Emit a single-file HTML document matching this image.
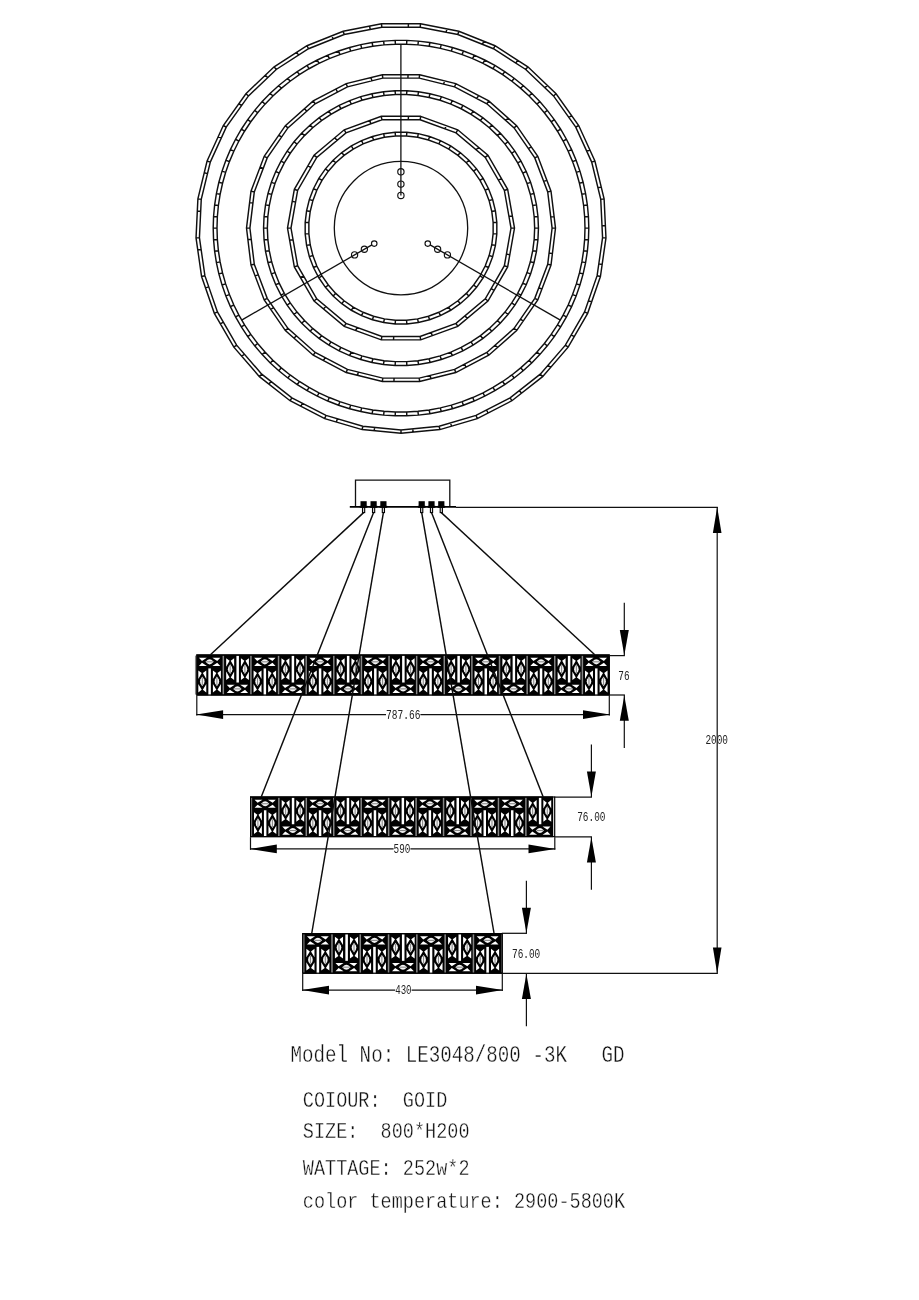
<!DOCTYPE html>
<html lang="en"><head><meta charset="utf-8"><title>LE3048/800 -3K GD</title>
<style>html,body{margin:0;padding:0;background:#fff}body{width:919px;height:1300px;overflow:hidden}svg{display:block}text{font-family:"Liberation Mono",monospace}</style>
</head><body>
<svg width="919" height="1300" viewBox="0 0 919 1300">
<rect width="919" height="1300" fill="#fff"/>
<g fill="none" stroke="#101010" stroke-width="1.45" stroke-linejoin="miter">
<path d="M420.51,23.83L458.81,31.21L495.03,45.71L527.85,66.8L556.08,93.72L578.71,125.5L594.91,160.99L604.11,198.9L605.97,237.86L600.42,276.48L587.66,313.34L568.15,347.13L542.6,376.61L511.94,400.73L477.27,418.6L439.83,429.59L401,433.3L362.17,429.59L324.73,418.6L290.06,400.73L259.4,376.61L233.85,347.13L214.34,313.34L201.58,276.48L196.03,237.86L197.89,198.9L207.09,160.99L223.29,125.5L245.92,93.72L274.15,66.8L306.97,45.71L343.19,31.21L381.49,23.83ZM420.18,27.21L457.85,34.47L493.47,48.73L525.74,69.47L553.51,95.95L575.76,127.2L591.7,162.1L600.75,199.38L602.57,237.7L597.11,275.68L584.56,311.93L565.38,345.16L540.26,374.15L510.1,397.86L476,415.44L439.19,426.25L401,429.9L362.81,426.25L326,415.44L291.9,397.86L261.74,374.15L236.62,345.16L217.44,311.93L204.89,275.68L199.43,237.7L201.25,199.38L210.3,162.1L226.24,127.2L248.49,95.95L276.26,69.47L308.53,48.73L344.15,34.47L381.82,27.21ZM381.49,23.83L381.82,27.21M408.41,23.83L408.29,27.21M420.51,23.83L420.18,27.21M446.94,28.92L446.18,32.22M458.81,31.21L457.85,34.47M483.8,41.22L482.43,44.31M495.03,45.71L493.47,48.73M517.67,60.26L515.74,63.04M527.85,66.8L525.74,69.47M547.33,85.38L544.9,87.74M556.08,93.72L553.51,95.95M571.69,115.65L568.87,117.51M578.71,125.5L575.76,127.2M589.89,149.99L586.76,151.28M594.91,160.99L591.7,162.1M601.26,187.14L597.94,187.82M604.11,198.9L600.75,199.38M605.39,225.78L602.01,225.82M605.97,237.86L602.57,237.7M602.14,264.51L598.8,263.9M600.42,276.48L597.11,275.68M591.61,301.91L588.45,300.69M587.66,313.34L584.56,311.93M574.2,336.65L571.33,334.86M568.15,347.13L565.38,345.16M550.52,367.47L548.05,365.16M542.6,376.61L540.26,374.15M521.45,393.25L519.45,390.51M511.94,400.73L510.1,397.86M488.01,413.06L486.57,409.99M477.27,418.6L476,415.44M451.44,426.18L450.6,422.9M439.83,429.59L439.19,426.25M413.04,432.15L412.84,428.77M401,433.3L401,429.9M374.2,430.74L374.65,427.38M362.17,429.59L362.81,426.25M336.34,422.01L337.41,418.8M324.73,418.6L326,415.44M300.81,406.27L302.47,403.31M290.06,400.73L291.9,397.86M268.9,384.09L271.09,381.5M259.4,376.61L261.74,374.15M241.77,356.27L244.41,354.14M233.85,347.13L236.62,345.16M220.39,323.82L223.38,322.23M214.34,313.34L217.44,311.93M205.54,287.91L208.78,286.92M201.58,276.48L204.89,275.68M197.75,249.83L201.12,249.47M196.03,237.86L199.43,237.7M197.31,210.98L200.69,211.26M197.89,198.9L201.25,199.38M204.23,172.74L207.49,173.66M207.09,160.99L210.3,162.1M218.27,136.5L221.3,138.02M223.29,125.5L226.24,127.2M238.91,103.57L241.59,105.64M245.92,93.72L248.49,95.95M265.4,75.15L267.65,77.68M274.15,66.8L276.26,69.47M296.8,52.25L298.52,55.16M306.97,45.71L308.53,48.73M331.96,35.71L333.11,38.89M343.19,31.21L344.15,34.47M369.62,26.12L370.14,29.46"/>
<path d="M419.62,74.73L455.79,83.64L488.77,100.95L516.64,125.65L537.8,156.3L551.01,191.13L555.5,228.1L551.01,265.07L537.8,299.9L516.64,330.55L488.77,355.25L455.79,372.56L419.62,381.47L382.38,381.47L346.21,372.56L313.23,355.25L285.36,330.55L264.2,299.9L250.99,265.07L246.5,228.1L250.99,191.13L264.2,156.3L285.36,125.65L313.23,100.95L346.21,83.64L382.38,74.73ZM419.21,78.1L454.58,86.82L486.83,103.75L514.1,127.9L534.79,157.88L547.71,191.94L552.1,228.1L547.71,264.26L534.79,298.32L514.1,328.3L486.83,352.45L454.58,369.38L419.21,378.1L382.79,378.1L347.42,369.38L315.17,352.45L287.9,328.3L267.21,298.32L254.29,264.26L249.9,228.1L254.29,191.94L267.21,157.88L287.9,127.9L315.17,103.75L347.42,86.82L382.79,78.1ZM382.38,74.73L382.79,78.1M408.08,74.73L407.92,78.1M419.62,74.73L419.21,78.1M444.58,80.88L443.62,84.12M455.79,83.64L454.58,86.82M478.54,95.58L476.84,98.5M488.77,100.95L486.83,103.75M508,117.99L505.65,120.41M516.64,125.65L514.1,127.9M531.24,146.8L528.38,148.59M537.8,156.3L534.79,157.88M546.92,180.33L543.71,181.38M551.01,191.13L547.71,191.94M554.11,216.64L550.74,216.89M555.5,228.1L552.1,228.1M552.4,253.61L549.07,253.05M551.01,265.07L547.71,264.26M541.9,289.1L538.8,287.76M537.8,299.9L534.79,298.32M523.2,321.05L520.51,319M516.64,330.55L514.1,328.3M497.41,347.59L495.29,344.96M488.77,355.25L486.83,352.45M466.01,367.19L464.58,364.13M455.79,372.56L454.58,369.38M430.83,378.71L430.18,375.4M419.62,381.47L419.21,378.1M393.92,381.47L394.08,378.1M382.38,381.47L382.79,378.1M357.42,375.32L358.38,372.08M346.21,372.56L347.42,369.38M323.46,360.62L325.16,357.7M313.23,355.25L315.17,352.45M294,338.21L296.35,335.79M285.36,330.55L287.9,328.3M270.76,309.4L273.62,307.61M264.2,299.9L267.21,298.32M255.08,275.87L258.29,274.82M250.99,265.07L254.29,264.26M247.89,239.56L251.26,239.31M246.5,228.1L249.9,228.1M249.6,202.59L252.93,203.15M250.99,191.13L254.29,191.94M260.1,167.1L263.2,168.44M264.2,156.3L267.21,157.88M278.8,135.15L281.49,137.2M285.36,125.65L287.9,127.9M304.59,108.61L306.71,111.24M313.23,100.95L315.17,103.75M335.99,89.01L337.42,92.07M346.21,83.64L347.42,86.82M371.17,77.49L371.82,80.8"/>
<path d="M420.71,116.32L457.75,129.81L487.95,155.14L507.66,189.28L514.5,228.1L507.66,266.92L487.95,301.06L457.75,326.39L420.71,339.88L381.29,339.88L344.25,326.39L314.05,301.06L294.34,266.92L287.5,228.1L294.34,189.28L314.05,155.14L344.25,129.81L381.29,116.32ZM420.1,119.77L456,132.84L485.26,157.39L504.37,190.48L511,228.1L504.37,265.72L485.26,298.81L456,323.36L420.1,336.43L381.9,336.43L346,323.36L316.74,298.81L297.63,265.72L291,228.1L297.63,190.48L316.74,157.39L346,132.84L381.9,119.77ZM381.29,116.32L381.9,119.77M408.49,116.32L408.26,119.77M420.71,116.32L420.1,119.77M446.27,125.63L444.87,128.79M457.75,129.81L456,132.84M478.59,147.29L476.19,149.78M487.95,155.14L485.26,157.39M501.55,178.7L498.44,180.22M507.66,189.28L504.37,190.48M512.38,216.07L508.94,216.44M514.5,228.1L511,228.1M509.78,254.89L506.42,254.06M507.66,266.92L504.37,265.72M494.06,290.47L491.19,288.55M487.95,301.06L485.26,298.81M467.11,318.54L465.07,315.75M457.75,326.39L456,323.36M432.19,335.7L431.23,332.38M420.71,339.88L420.1,336.43M393.51,339.88L393.74,336.43M381.29,339.88L381.9,336.43M355.73,330.57L357.13,327.41M344.25,326.39L346,323.36M323.41,308.91L325.81,306.42M314.05,301.06L316.74,298.81M300.45,277.5L303.56,275.98M294.34,266.92L297.63,265.72M289.62,240.13L293.06,239.76M287.5,228.1L291,228.1M292.22,201.31L295.58,202.14M294.34,189.28L297.63,190.48M307.94,165.73L310.81,167.65M314.05,155.14L316.74,157.39M334.89,137.66L336.93,140.45M344.25,129.81L346,132.84M369.81,120.5L370.77,123.82"/>
<path d="M406.78,40.39L418.33,41.1L429.81,42.52L441.18,44.65L452.39,47.47L463.42,50.98L474.2,55.15L484.71,59.99L494.9,65.46L504.73,71.55L514.17,78.23L523.19,85.48L531.73,93.28L539.79,101.58L547.31,110.36L554.28,119.59L560.67,129.24L566.45,139.25L571.61,149.61L576.12,160.26L579.96,171.17L583.13,182.29L585.6,193.59L587.38,205.02L588.44,216.54L588.8,228.1L588.44,239.66L587.38,251.18L585.6,262.61L583.13,273.91L579.96,285.03L576.12,295.94L571.61,306.59L566.45,316.95L560.67,326.96L554.28,336.61L547.31,345.84L539.79,354.62L531.73,362.92L523.19,370.72L514.17,377.97L504.73,384.65L494.9,390.74L484.71,396.21L474.2,401.05L463.42,405.22L452.39,408.73L441.18,411.55L429.81,413.68L418.33,415.1L406.78,415.81L395.22,415.81L383.67,415.1L372.19,413.68L360.82,411.55L349.61,408.73L338.58,405.22L327.8,401.05L317.29,396.21L307.1,390.74L297.27,384.65L287.83,377.97L278.81,370.72L270.27,362.92L262.21,354.62L254.69,345.84L247.72,336.61L241.33,326.96L235.55,316.95L230.39,306.59L225.88,295.94L222.04,285.03L218.87,273.91L216.4,262.61L214.62,251.18L213.56,239.66L213.2,228.1L213.56,216.54L214.62,205.02L216.4,193.59L218.87,182.29L222.04,171.17L225.88,160.26L230.39,149.61L235.55,139.25L241.33,129.24L247.72,119.59L254.69,110.36L262.21,101.58L270.27,93.28L278.81,85.48L287.83,78.23L297.27,71.55L307.1,65.46L317.29,59.99L327.8,55.15L338.58,50.98L349.61,47.47L360.82,44.65L372.19,42.52L383.67,41.1L395.22,40.39ZM406.67,44.19L417.98,44.88L429.22,46.28L440.36,48.36L451.35,51.12L462.15,54.56L472.72,58.65L483.02,63.39L493,68.75L502.64,74.72L511.88,81.26L520.71,88.37L529.09,96L536.98,104.14L544.35,112.75L551.18,121.79L557.44,131.24L563.11,141.05L568.16,151.2L572.57,161.63L576.34,172.32L579.44,183.22L581.87,194.29L583.61,205.49L584.65,216.77L585,228.1L584.65,239.43L583.61,250.71L581.87,261.91L579.44,272.98L576.34,283.88L572.57,294.57L568.16,305L563.11,315.15L557.44,324.96L551.18,334.41L544.35,343.45L536.98,352.06L529.09,360.2L520.71,367.83L511.88,374.94L502.64,381.48L493,387.45L483.02,392.81L472.72,397.55L462.15,401.64L451.35,405.08L440.36,407.84L429.22,409.92L417.98,411.32L406.67,412.01L395.33,412.01L384.02,411.32L372.78,409.92L361.64,407.84L350.65,405.08L339.85,401.64L329.28,397.55L318.98,392.81L309,387.45L299.36,381.48L290.12,374.94L281.29,367.83L272.91,360.2L265.02,352.06L257.65,343.45L250.82,334.41L244.56,324.96L238.89,315.15L233.84,305L229.43,294.57L225.66,283.88L222.56,272.98L220.13,261.91L218.39,250.71L217.35,239.43L217,228.1L217.35,216.77L218.39,205.49L220.13,194.29L222.56,183.22L225.66,172.32L229.43,161.63L233.84,151.2L238.89,141.05L244.56,131.24L250.82,121.79L257.65,112.75L265.02,104.14L272.91,96L281.29,88.37L290.12,81.26L299.36,74.72L309,68.75L318.98,63.39L329.28,58.65L339.85,54.56L350.65,51.12L361.64,48.36L372.78,46.28L384.02,44.88L395.33,44.19ZM406.78,40.39L406.67,44.19M418.33,41.1L417.98,44.88M429.81,42.52L429.22,46.28M441.18,44.65L440.36,48.36M452.39,47.47L451.35,51.12M463.42,50.98L462.15,54.56M474.2,55.15L472.72,58.65M484.71,59.99L483.02,63.39M494.9,65.46L493,68.75M504.73,71.55L502.64,74.72M514.17,78.23L511.88,81.26M523.19,85.48L520.71,88.37M531.73,93.28L529.09,96M539.79,101.58L536.98,104.14M547.31,110.36L544.35,112.75M554.28,119.59L551.18,121.79M560.67,129.24L557.44,131.24M566.45,139.25L563.11,141.05M571.61,149.61L568.16,151.2M576.12,160.26L572.57,161.63M579.96,171.17L576.34,172.32M583.13,182.29L579.44,183.22M585.6,193.59L581.87,194.29M587.38,205.02L583.61,205.49M588.44,216.54L584.65,216.77M588.8,228.1L585,228.1M588.44,239.66L584.65,239.43M587.38,251.18L583.61,250.71M585.6,262.61L581.87,261.91M583.13,273.91L579.44,272.98M579.96,285.03L576.34,283.88M576.12,295.94L572.57,294.57M571.61,306.59L568.16,305M566.45,316.95L563.11,315.15M560.67,326.96L557.44,324.96M554.28,336.61L551.18,334.41M547.31,345.84L544.35,343.45M539.79,354.62L536.98,352.06M531.73,362.92L529.09,360.2M523.19,370.72L520.71,367.83M514.17,377.97L511.88,374.94M504.73,384.65L502.64,381.48M494.9,390.74L493,387.45M484.71,396.21L483.02,392.81M474.2,401.05L472.72,397.55M463.42,405.22L462.15,401.64M452.39,408.73L451.35,405.08M441.18,411.55L440.36,407.84M429.81,413.68L429.22,409.92M418.33,415.1L417.98,411.32M406.78,415.81L406.67,412.01M395.22,415.81L395.33,412.01M383.67,415.1L384.02,411.32M372.19,413.68L372.78,409.92M360.82,411.55L361.64,407.84M349.61,408.73L350.65,405.08M338.58,405.22L339.85,401.64M327.8,401.05L329.28,397.55M317.29,396.21L318.98,392.81M307.1,390.74L309,387.45M297.27,384.65L299.36,381.48M287.83,377.97L290.12,374.94M278.81,370.72L281.29,367.83M270.27,362.92L272.91,360.2M262.21,354.62L265.02,352.06M254.69,345.84L257.65,343.45M247.72,336.61L250.82,334.41M241.33,326.96L244.56,324.96M235.55,316.95L238.89,315.15M230.39,306.59L233.84,305M225.88,295.94L229.43,294.57M222.04,285.03L225.66,283.88M218.87,273.91L222.56,272.98M216.4,262.61L220.13,261.91M214.62,251.18L218.39,250.71M213.56,239.66L217.35,239.43M213.2,228.1L217,228.1M213.56,216.54L217.35,216.77M214.62,205.02L218.39,205.49M216.4,193.59L220.13,194.29M218.87,182.29L222.56,183.22M222.04,171.17L225.66,172.32M225.88,160.26L229.43,161.63M230.39,149.61L233.84,151.2M235.55,139.25L238.89,141.05M241.33,129.24L244.56,131.24M247.72,119.59L250.82,121.79M254.69,110.36L257.65,112.75M262.21,101.58L265.02,104.14M270.27,93.28L272.91,96M278.81,85.48L281.29,88.37M287.83,78.23L290.12,81.26M297.27,71.55L299.36,74.72M307.1,65.46L309,68.75M317.29,59.99L318.98,63.39M327.8,55.15L329.28,58.65M338.58,50.98L339.85,54.56M349.61,47.47L350.65,51.12M360.82,44.65L361.64,48.36M372.19,42.52L372.78,46.28M383.67,41.1L384.02,44.88M395.22,40.39L395.33,44.19"/>
<path d="M406.83,90.77L418.46,91.76L429.96,93.74L441.25,96.67L452.25,100.56L462.88,105.37L473.07,111.06L482.73,117.59L491.81,124.92L500.23,132.99L507.94,141.75L514.88,151.13L521,161.07L526.25,171.48L530.6,182.31L534.01,193.47L536.47,204.87L537.95,216.44L538.45,228.1L537.95,239.76L536.47,251.33L534.01,262.73L530.6,273.89L526.25,284.72L521,295.13L514.88,305.07L507.94,314.45L500.23,323.21L491.81,331.28L482.73,338.61L473.07,345.14L462.88,350.83L452.25,355.64L441.25,359.53L429.96,362.46L418.46,364.44L406.83,365.43L395.17,365.43L383.54,364.44L372.04,362.46L360.75,359.53L349.75,355.64L339.12,350.83L328.93,345.14L319.27,338.61L310.19,331.28L301.77,323.21L294.06,314.45L287.12,305.07L281,295.13L275.75,284.72L271.4,273.89L267.99,262.73L265.53,251.33L264.05,239.76L263.55,228.1L264.05,216.44L265.53,204.87L267.99,193.47L271.4,182.31L275.75,171.48L281,161.07L287.12,151.13L294.06,141.75L301.77,132.99L310.19,124.92L319.27,117.59L328.93,111.06L339.12,105.37L349.75,100.56L360.75,96.67L372.04,93.74L383.54,91.76L395.17,90.77ZM406.67,94.57L417.98,95.53L429.16,97.45L440.14,100.31L450.83,104.09L461.17,108.76L471.07,114.29L480.47,120.65L489.3,127.77L497.49,135.62L504.98,144.14L511.73,153.26L517.68,162.92L522.79,173.05L527.02,183.58L530.34,194.42L532.73,205.51L534.17,216.77L534.65,228.1L534.17,239.43L532.73,250.69L530.34,261.78L527.02,272.62L522.79,283.15L517.68,293.28L511.73,302.94L504.98,312.06L497.49,320.58L489.3,328.43L480.47,335.55L471.07,341.91L461.17,347.44L450.83,352.11L440.14,355.89L429.16,358.75L417.98,360.67L406.67,361.63L395.33,361.63L384.02,360.67L372.84,358.75L361.86,355.89L351.17,352.11L340.83,347.44L330.93,341.91L321.53,335.55L312.7,328.43L304.51,320.58L297.02,312.06L290.27,302.94L284.32,293.28L279.21,283.15L274.98,272.62L271.66,261.78L269.27,250.69L267.83,239.43L267.35,228.1L267.83,216.77L269.27,205.51L271.66,194.42L274.98,183.58L279.21,173.05L284.32,162.92L290.27,153.26L297.02,144.14L304.51,135.62L312.7,127.77L321.53,120.65L330.93,114.29L340.83,108.76L351.17,104.09L361.86,100.31L372.84,97.45L384.02,95.53L395.33,94.57ZM406.83,90.77L406.67,94.57M418.46,91.76L417.98,95.53M429.96,93.74L429.16,97.45M441.25,96.67L440.14,100.31M452.25,100.56L450.83,104.09M462.88,105.37L461.17,108.76M473.07,111.06L471.07,114.29M482.73,117.59L480.47,120.65M491.81,124.92L489.3,127.77M500.23,132.99L497.49,135.62M507.94,141.75L504.98,144.14M514.88,151.13L511.73,153.26M521,161.07L517.68,162.92M526.25,171.48L522.79,173.05M530.6,182.31L527.02,183.58M534.01,193.47L530.34,194.42M536.47,204.87L532.73,205.51M537.95,216.44L534.17,216.77M538.45,228.1L534.65,228.1M537.95,239.76L534.17,239.43M536.47,251.33L532.73,250.69M534.01,262.73L530.34,261.78M530.6,273.89L527.02,272.62M526.25,284.72L522.79,283.15M521,295.13L517.68,293.28M514.88,305.07L511.73,302.94M507.94,314.45L504.98,312.06M500.23,323.21L497.49,320.58M491.81,331.28L489.3,328.43M482.73,338.61L480.47,335.55M473.07,345.14L471.07,341.91M462.88,350.83L461.17,347.44M452.25,355.64L450.83,352.11M441.25,359.53L440.14,355.89M429.96,362.46L429.16,358.75M418.46,364.44L417.98,360.67M406.83,365.43L406.67,361.63M395.17,365.43L395.33,361.63M383.54,364.44L384.02,360.67M372.04,362.46L372.84,358.75M360.75,359.53L361.86,355.89M349.75,355.64L351.17,352.11M339.12,350.83L340.83,347.44M328.93,345.14L330.93,341.91M319.27,338.61L321.53,335.55M310.19,331.28L312.7,328.43M301.77,323.21L304.51,320.58M294.06,314.45L297.02,312.06M287.12,305.07L290.27,302.94M281,295.13L284.32,293.28M275.75,284.72L279.21,283.15M271.4,273.89L274.98,272.62M267.99,262.73L271.66,261.78M265.53,251.33L269.27,250.69M264.05,239.76L267.83,239.43M263.55,228.1L267.35,228.1M264.05,216.44L267.83,216.77M265.53,204.87L269.27,205.51M267.99,193.47L271.66,194.42M271.4,182.31L274.98,183.58M275.75,171.48L279.21,173.05M281,161.07L284.32,162.92M287.12,151.13L290.27,153.26M294.06,141.75L297.02,144.14M301.77,132.99L304.51,135.62M310.19,124.92L312.7,127.77M319.27,117.59L321.53,120.65M328.93,111.06L330.93,114.29M339.12,105.37L340.83,108.76M349.75,100.56L351.17,104.09M360.75,96.67L361.86,100.31M372.04,93.74L372.84,97.45M383.54,91.76L384.02,95.53M395.17,90.77L395.33,94.57"/>
<path d="M406.8,132.28L418.3,133.67L429.56,136.45L440.4,140.56L450.66,145.94L460.21,152.53L468.88,160.22L476.57,168.89L483.16,178.44L488.54,188.7L492.65,199.54L495.43,210.8L496.82,222.3L496.82,233.9L495.43,245.4L492.65,256.66L488.54,267.5L483.16,277.76L476.57,287.31L468.88,295.98L460.21,303.67L450.66,310.26L440.4,315.64L429.56,319.75L418.3,322.53L406.8,323.92L395.2,323.92L383.7,322.53L372.44,319.75L361.6,315.64L351.34,310.26L341.79,303.67L333.12,295.98L325.43,287.31L318.84,277.76L313.46,267.5L309.35,256.66L306.57,245.4L305.18,233.9L305.18,222.3L306.57,210.8L309.35,199.54L313.46,188.7L318.84,178.44L325.43,168.89L333.12,160.22L341.79,152.53L351.34,145.94L361.6,140.56L372.44,136.45L383.7,133.67L395.2,132.28ZM406.57,135.97L417.64,137.31L428.46,139.98L438.88,143.93L448.75,149.11L457.92,155.44L466.27,162.83L473.66,171.18L479.99,180.35L485.17,190.22L489.12,200.64L491.79,211.46L493.13,222.53L493.13,233.67L491.79,244.74L489.12,255.56L485.17,265.98L479.99,275.85L473.66,285.02L466.27,293.37L457.92,300.76L448.75,307.09L438.88,312.27L428.46,316.22L417.64,318.89L406.57,320.23L395.43,320.23L384.36,318.89L373.54,316.22L363.12,312.27L353.25,307.09L344.08,300.76L335.73,293.37L328.34,285.02L322.01,275.85L316.83,265.98L312.88,255.56L310.21,244.74L308.87,233.67L308.87,222.53L310.21,211.46L312.88,200.64L316.83,190.22L322.01,180.35L328.34,171.18L335.73,162.83L344.08,155.44L353.25,149.11L363.12,143.93L373.54,139.98L384.36,137.31L395.43,135.97ZM406.8,132.28L406.57,135.97M418.3,133.67L417.64,137.31M429.56,136.45L428.46,139.98M440.4,140.56L438.88,143.93M450.66,145.94L448.75,149.11M460.21,152.53L457.92,155.44M468.88,160.22L466.27,162.83M476.57,168.89L473.66,171.18M483.16,178.44L479.99,180.35M488.54,188.7L485.17,190.22M492.65,199.54L489.12,200.64M495.43,210.8L491.79,211.46M496.82,222.3L493.13,222.53M496.82,233.9L493.13,233.67M495.43,245.4L491.79,244.74M492.65,256.66L489.12,255.56M488.54,267.5L485.17,265.98M483.16,277.76L479.99,275.85M476.57,287.31L473.66,285.02M468.88,295.98L466.27,293.37M460.21,303.67L457.92,300.76M450.66,310.26L448.75,307.09M440.4,315.64L438.88,312.27M429.56,319.75L428.46,316.22M418.3,322.53L417.64,318.89M406.8,323.92L406.57,320.23M395.2,323.92L395.43,320.23M383.7,322.53L384.36,318.89M372.44,319.75L373.54,316.22M361.6,315.64L363.12,312.27M351.34,310.26L353.25,307.09M341.79,303.67L344.08,300.76M333.12,295.98L335.73,293.37M325.43,287.31L328.34,285.02M318.84,277.76L322.01,275.85M313.46,267.5L316.83,265.98M309.35,256.66L312.88,255.56M306.57,245.4L310.21,244.74M305.18,233.9L308.87,233.67M305.18,222.3L308.87,222.53M306.57,210.8L310.21,211.46M309.35,199.54L312.88,200.64M313.46,188.7L316.83,190.22M318.84,178.44L322.01,180.35M325.43,168.89L328.34,171.18M333.12,160.22L335.73,162.83M341.79,152.53L344.08,155.44M351.34,145.94L353.25,149.11M361.6,140.56L363.12,143.93M372.44,136.45L373.54,139.98M383.7,133.67L384.36,137.31M395.2,132.28L395.43,135.97"/>
</g>
<g fill="none" stroke="#111" stroke-width="1.3">
<circle cx="401" cy="228.1" r="66.7"/>
<path d="M400.9,44.1V195.4"/>
<circle cx="400.9" cy="171.8" r="3.15" stroke-width="1.15"/>
<circle cx="400.9" cy="184.1" r="3.15" stroke-width="1.15"/>
<circle cx="400.9" cy="195.4" r="3.15" stroke-width="1.15"/>
<path d="M560.35,320.1L430.1,244.9"/>
<circle cx="447.42" cy="254.9" r="3.1" stroke-width="1.15"/>
<circle cx="437.63" cy="249.25" r="3.1" stroke-width="1.15"/>
<circle cx="427.76" cy="243.55" r="2.75" stroke-width="1.15"/>
<path d="M241.65,320.1L371.9,244.9"/>
<circle cx="354.58" cy="254.9" r="3.1" stroke-width="1.15"/>
<circle cx="364.37" cy="249.25" r="3.1" stroke-width="1.15"/>
<circle cx="374.24" cy="243.55" r="2.75" stroke-width="1.15"/>
</g>
<g style="opacity:0.999">
<defs>
<g id="ch"><path d="M-10.68,-4.03L-2.73,-4.03L-7.63,-0.91ZM-10.68,4.03L-2.73,4.03L-7.63,0.91ZM10.68,-4.03L2.73,-4.03L7.63,-0.91ZM10.68,4.03L2.73,4.03L7.63,0.91Z" fill="#fff"/><path d="M-4.14,0L-1.86,-1.99L0,-2.49L1.86,-1.99L4.14,0L1.86,1.99L0,2.49L-1.86,1.99Z" fill="#f4f4f4"/><path d="M-3.31,0H3.31" stroke="#666" stroke-width="0.8"/></g>
<g id="cv"><path d="M-10.67,-3.98L-2.42,-3.98L-8.14,-0.57ZM-10.67,3.98L-2.42,3.98L-8.14,0.57ZM10.67,-3.98L2.42,-3.98L8.14,-0.57ZM10.67,3.98L2.42,3.98L8.14,0.57Z" fill="#fff"/><path d="M-4.73,0L-2.13,-1.84L0,-2.3L2.13,-1.84L4.73,0L2.13,1.84L0,2.3L-2.13,1.84Z" fill="#f4f4f4"/><path d="M-3.78,0H3.78" stroke="#666" stroke-width="0.8"/></g>
<g id="mA"><use href="#ch" transform="translate(13.7,7.2)"/><use href="#cv" transform="translate(6.4,26.2) rotate(90)"/><use href="#cv" transform="translate(21.0,26.2) rotate(90)"/><rect x="12.45" y="13.6" width="2.5" height="26.2" fill="#fff"/><rect x="-0.95" y="1.2" width="1.5" height="37.8" fill="#858585"/></g>
<g id="mB"><use href="#ch" transform="translate(13.9,33.5)"/><use href="#cv" transform="translate(6.65,14.3) rotate(90)"/><use href="#cv" transform="translate(21.4,14.3) rotate(90)"/><rect x="12.9" y="1.3" width="2.5" height="26.0" fill="#fff"/><rect x="-0.95" y="1.2" width="1.5" height="37.8" fill="#858585"/></g>
</defs>
<path d="M355.5,506.7V480.1H449.8V506.7" fill="none" stroke="#111" stroke-width="1.3"/>
<path d="M349.8,506.9L456,506.9" stroke="#000" stroke-width="1.7" fill="none"/>
<path d="M456,507.25L717.8,507.25" stroke="#111" stroke-width="1.25" fill="none"/>
<rect x="360.5" y="501.2" width="6.2" height="6.4" fill="#000"/>
<rect x="359.7" y="505.8" width="7.8" height="1.9" fill="#000"/>
<rect x="362.5" y="507.5" width="2.2" height="5.1" fill="#ddd" stroke="#000" stroke-width="1.1"/>
<rect x="370.5" y="501.2" width="6.2" height="6.4" fill="#000"/>
<rect x="369.7" y="505.8" width="7.8" height="1.9" fill="#000"/>
<rect x="372.5" y="507.5" width="2.2" height="5.1" fill="#ddd" stroke="#000" stroke-width="1.1"/>
<rect x="380.3" y="501.2" width="6.2" height="6.4" fill="#000"/>
<rect x="379.5" y="505.8" width="7.8" height="1.9" fill="#000"/>
<rect x="382.3" y="507.5" width="2.2" height="5.1" fill="#ddd" stroke="#000" stroke-width="1.1"/>
<rect x="418.6" y="501.2" width="6.2" height="6.4" fill="#000"/>
<rect x="417.8" y="505.8" width="7.8" height="1.9" fill="#000"/>
<rect x="420.6" y="507.5" width="2.2" height="5.1" fill="#ddd" stroke="#000" stroke-width="1.1"/>
<rect x="428.4" y="501.2" width="6.2" height="6.4" fill="#000"/>
<rect x="427.6" y="505.8" width="7.8" height="1.9" fill="#000"/>
<rect x="430.4" y="507.5" width="2.2" height="5.1" fill="#ddd" stroke="#000" stroke-width="1.1"/>
<rect x="438.2" y="501.2" width="6.2" height="6.4" fill="#000"/>
<rect x="437.4" y="505.8" width="7.8" height="1.9" fill="#000"/>
<rect x="440.2" y="507.5" width="2.2" height="5.1" fill="#ddd" stroke="#000" stroke-width="1.1"/>
<rect x="196.3" y="654.4" width="413.5" height="41.2" fill="#000"/>
<use href="#mA" transform="translate(195.9,654.4) scale(1,1.03)"/>
<use href="#mB" transform="translate(223.52,654.4) scale(1,1.03)"/>
<use href="#mA" transform="translate(251.14,654.4) scale(1,1.03)"/>
<use href="#mB" transform="translate(278.76,654.4) scale(1,1.03)"/>
<use href="#mA" transform="translate(306.38,654.4) scale(1,1.03)"/>
<use href="#mB" transform="translate(334,654.4) scale(1,1.03)"/>
<use href="#mA" transform="translate(361.62,654.4) scale(1,1.03)"/>
<use href="#mB" transform="translate(389.24,654.4) scale(1,1.03)"/>
<use href="#mA" transform="translate(416.86,654.4) scale(1,1.03)"/>
<use href="#mB" transform="translate(444.48,654.4) scale(1,1.03)"/>
<use href="#mA" transform="translate(472.1,654.4) scale(1,1.03)"/>
<use href="#mB" transform="translate(499.72,654.4) scale(1,1.03)"/>
<use href="#mA" transform="translate(527.34,654.4) scale(1,1.03)"/>
<use href="#mB" transform="translate(554.96,654.4) scale(1,1.03)"/>
<use href="#mA" transform="translate(582.58,654.4) scale(1,1.03)"/>
<rect x="196.9" y="655" width="412.3" height="40" fill="none" stroke="#000" stroke-width="1.2"/>
<rect x="250" y="796.4" width="303.2" height="40.8" fill="#000"/>
<use href="#mA" transform="translate(251.6,796.4) scale(0.99,1.02)"/>
<use href="#mB" transform="translate(279.05,796.4) scale(0.99,1.02)"/>
<use href="#mA" transform="translate(306.5,796.4) scale(0.99,1.02)"/>
<use href="#mB" transform="translate(333.95,796.4) scale(0.99,1.02)"/>
<use href="#mA" transform="translate(361.4,796.4) scale(0.99,1.02)"/>
<use href="#mB" transform="translate(388.85,796.4) scale(0.99,1.02)"/>
<use href="#mA" transform="translate(416.3,796.4) scale(0.99,1.02)"/>
<use href="#mB" transform="translate(443.75,796.4) scale(0.99,1.02)"/>
<use href="#mA" transform="translate(471.2,796.4) scale(0.99,1.02)"/>
<use href="#mA" transform="translate(498.65,796.4) scale(0.99,1.02)"/>
<use href="#mB" transform="translate(526.1,796.4) scale(0.99,1.02)"/>
<rect x="250.6" y="797" width="304.1" height="39.6" fill="none" stroke="#000" stroke-width="1.2"/>
<rect x="302.2" y="933" width="200.6" height="40.8" fill="#000"/>
<use href="#mA" transform="translate(303.9,933) scale(1.02,1.02)"/>
<use href="#mB" transform="translate(332.19,933) scale(1.02,1.02)"/>
<use href="#mA" transform="translate(360.48,933) scale(1.02,1.02)"/>
<use href="#mB" transform="translate(388.77,933) scale(1.02,1.02)"/>
<use href="#mA" transform="translate(417.06,933) scale(1.02,1.02)"/>
<use href="#mB" transform="translate(445.35,933) scale(1.02,1.02)"/>
<use href="#mA" transform="translate(473.64,933) scale(1.02,1.02)"/>
<rect x="501.33" y="934.2" width="1.2" height="38.4" fill="#858585"/>
<rect x="302.8" y="933.6" width="199.4" height="39.6" fill="none" stroke="#000" stroke-width="1.2"/>
<path d="M363.6,512.6L210.4,654.7" stroke="#0c0c0c" stroke-width="1.45" fill="none"/>
<path d="M441.3,512.6L594.8,654.7" stroke="#0c0c0c" stroke-width="1.45" fill="none"/>
<path d="M373.6,512.6L261.2,796.9" stroke="#0c0c0c" stroke-width="1.45" fill="none"/>
<path d="M431.5,512.6L543.2,796.9" stroke="#0c0c0c" stroke-width="1.45" fill="none"/>
<path d="M383.4,512.6L311.8,933" stroke="#0c0c0c" stroke-width="1.45" fill="none"/>
<path d="M421.7,512.6L494,933" stroke="#0c0c0c" stroke-width="1.45" fill="none"/>
<path d="M196.8,695.6L196.8,715.5" stroke="#111" stroke-width="1.2" fill="none"/>
<path d="M609.3,695.6L609.3,715.5" stroke="#111" stroke-width="1.2" fill="none"/>
<path d="M196.3,714.6L386,714.6" stroke="#111" stroke-width="1.2" fill="none"/>
<path d="M420.4,714.6L609.8,714.6" stroke="#111" stroke-width="1.2" fill="none"/>
<path d="M196.3,714.6L223.1,710.2L223.1,719Z" fill="#000"/>
<path d="M609.8,714.6L583,719L583,710.2Z" fill="#000"/>
<text transform="translate(386,718.8) scale(1,1.316)" font-size="9.55" xml:space="preserve" fill="#222" stroke="#fff" stroke-width="0">787.66</text>
<path d="M250.5,837.2L250.5,849.8" stroke="#111" stroke-width="1.2" fill="none"/>
<path d="M554.8,837.2L554.8,849.8" stroke="#111" stroke-width="1.2" fill="none"/>
<path d="M250,848.9L393.6,848.9" stroke="#111" stroke-width="1.2" fill="none"/>
<path d="M410.4,848.9L555.3,848.9" stroke="#111" stroke-width="1.2" fill="none"/>
<path d="M250,848.9L276.8,844.5L276.8,853.3Z" fill="#000"/>
<path d="M555.3,848.9L528.5,853.3L528.5,844.5Z" fill="#000"/>
<text transform="translate(393.6,853.1) scale(1,1.348)" font-size="9.33" xml:space="preserve" fill="#222" stroke="#fff" stroke-width="0">590</text>
<path d="M302.7,973.8L302.7,991" stroke="#111" stroke-width="1.2" fill="none"/>
<path d="M502.3,973.8L502.3,991" stroke="#111" stroke-width="1.2" fill="none"/>
<path d="M302.2,990.1L395.2,990.1" stroke="#111" stroke-width="1.2" fill="none"/>
<path d="M411.6,990.1L502.8,990.1" stroke="#111" stroke-width="1.2" fill="none"/>
<path d="M302.2,990.1L329,985.7L329,994.5Z" fill="#000"/>
<path d="M502.8,990.1L476,994.5L476,985.7Z" fill="#000"/>
<text transform="translate(395.2,994.3) scale(1,1.380)" font-size="9.11" xml:space="preserve" fill="#222" stroke="#fff" stroke-width="0">430</text>
<path d="M608.8,655.6L624.9,655.6" stroke="#111" stroke-width="1.25" fill="none"/>
<path d="M608.8,695L624.9,695" stroke="#111" stroke-width="1.25" fill="none"/>
<path d="M624.3,602.7L624.3,655.6" stroke="#111" stroke-width="1.2" fill="none"/>
<path d="M624.3,695L624.3,748" stroke="#111" stroke-width="1.2" fill="none"/>
<path d="M624.3,655.3L619.8,630L628.8,630Z" fill="#000"/>
<path d="M624.3,695.4L628.8,720.7L619.8,720.7Z" fill="#000"/>
<text transform="translate(618.3,680) scale(1,1.336)" font-size="9.42" xml:space="preserve" fill="#222" stroke="#fff" stroke-width="0">76</text>
<path d="M554.3,797L592,797" stroke="#111" stroke-width="1.25" fill="none"/>
<path d="M554.3,836.9L592,836.9" stroke="#111" stroke-width="1.25" fill="none"/>
<path d="M591.4,744.4L591.4,797" stroke="#111" stroke-width="1.2" fill="none"/>
<path d="M591.4,836.9L591.4,889.7" stroke="#111" stroke-width="1.2" fill="none"/>
<path d="M591.4,796.7L586.9,771.4L595.9,771.4Z" fill="#000"/>
<path d="M591.4,837.3L595.9,862.6L586.9,862.6Z" fill="#000"/>
<text transform="translate(577.2,821.3) scale(1,1.336)" font-size="9.42" xml:space="preserve" fill="#222" stroke="#fff" stroke-width="0">76.00</text>
<path d="M501.8,933.3L527,933.3" stroke="#111" stroke-width="1.25" fill="none"/>
<path d="M526.4,880.7L526.4,933.3" stroke="#111" stroke-width="1.2" fill="none"/>
<path d="M526.4,973.4L526.4,1026.2" stroke="#111" stroke-width="1.2" fill="none"/>
<path d="M526.4,933L521.9,907.7L530.9,907.7Z" fill="#000"/>
<path d="M526.4,973.8L530.9,999.1L521.9,999.1Z" fill="#000"/>
<text transform="translate(512,957.8) scale(1,1.336)" font-size="9.42" xml:space="preserve" fill="#222" stroke="#fff" stroke-width="0">76.00</text>
<path d="M501.8,973.4L717.8,973.4" stroke="#111" stroke-width="1.25" fill="none"/>
<path d="M717.2,507L717.2,973.4" stroke="#111" stroke-width="1.2" fill="none"/>
<path d="M717.2,507L721.5,533L712.9,533Z" fill="#000"/>
<path d="M717.2,973.4L712.9,947.4L721.5,947.4Z" fill="#000"/>
<text transform="translate(705.4,744.2) scale(1,1.336)" font-size="9.42" xml:space="preserve" fill="#222" stroke="#fff" stroke-width="0">2000</text>
<text transform="translate(290.5,1062.3) scale(1,1.239)" font-size="19.20" xml:space="preserve" fill="#111" stroke="#fff" stroke-width="0.3">Model No: LE3048/800 -3K   GD</text>
<text transform="translate(302.8,1107.2) scale(1,1.226)" font-size="18.53" xml:space="preserve" fill="#111" stroke="#fff" stroke-width="0.3">COIOUR:  GOID</text>
<text transform="translate(302.8,1137.7) scale(1,1.226)" font-size="18.53" xml:space="preserve" fill="#111" stroke="#fff" stroke-width="0.3">SIZE:  800*H200</text>
<text transform="translate(302.8,1175) scale(1,1.226)" font-size="18.53" xml:space="preserve" fill="#111" stroke="#fff" stroke-width="0.3">WATTAGE: 252w*2</text>
<text transform="translate(302.8,1208.3) scale(1,1.226)" font-size="18.53" xml:space="preserve" fill="#111" stroke="#fff" stroke-width="0.3">color temperature: 2900-5800K</text>
</g>
</svg></body></html>
